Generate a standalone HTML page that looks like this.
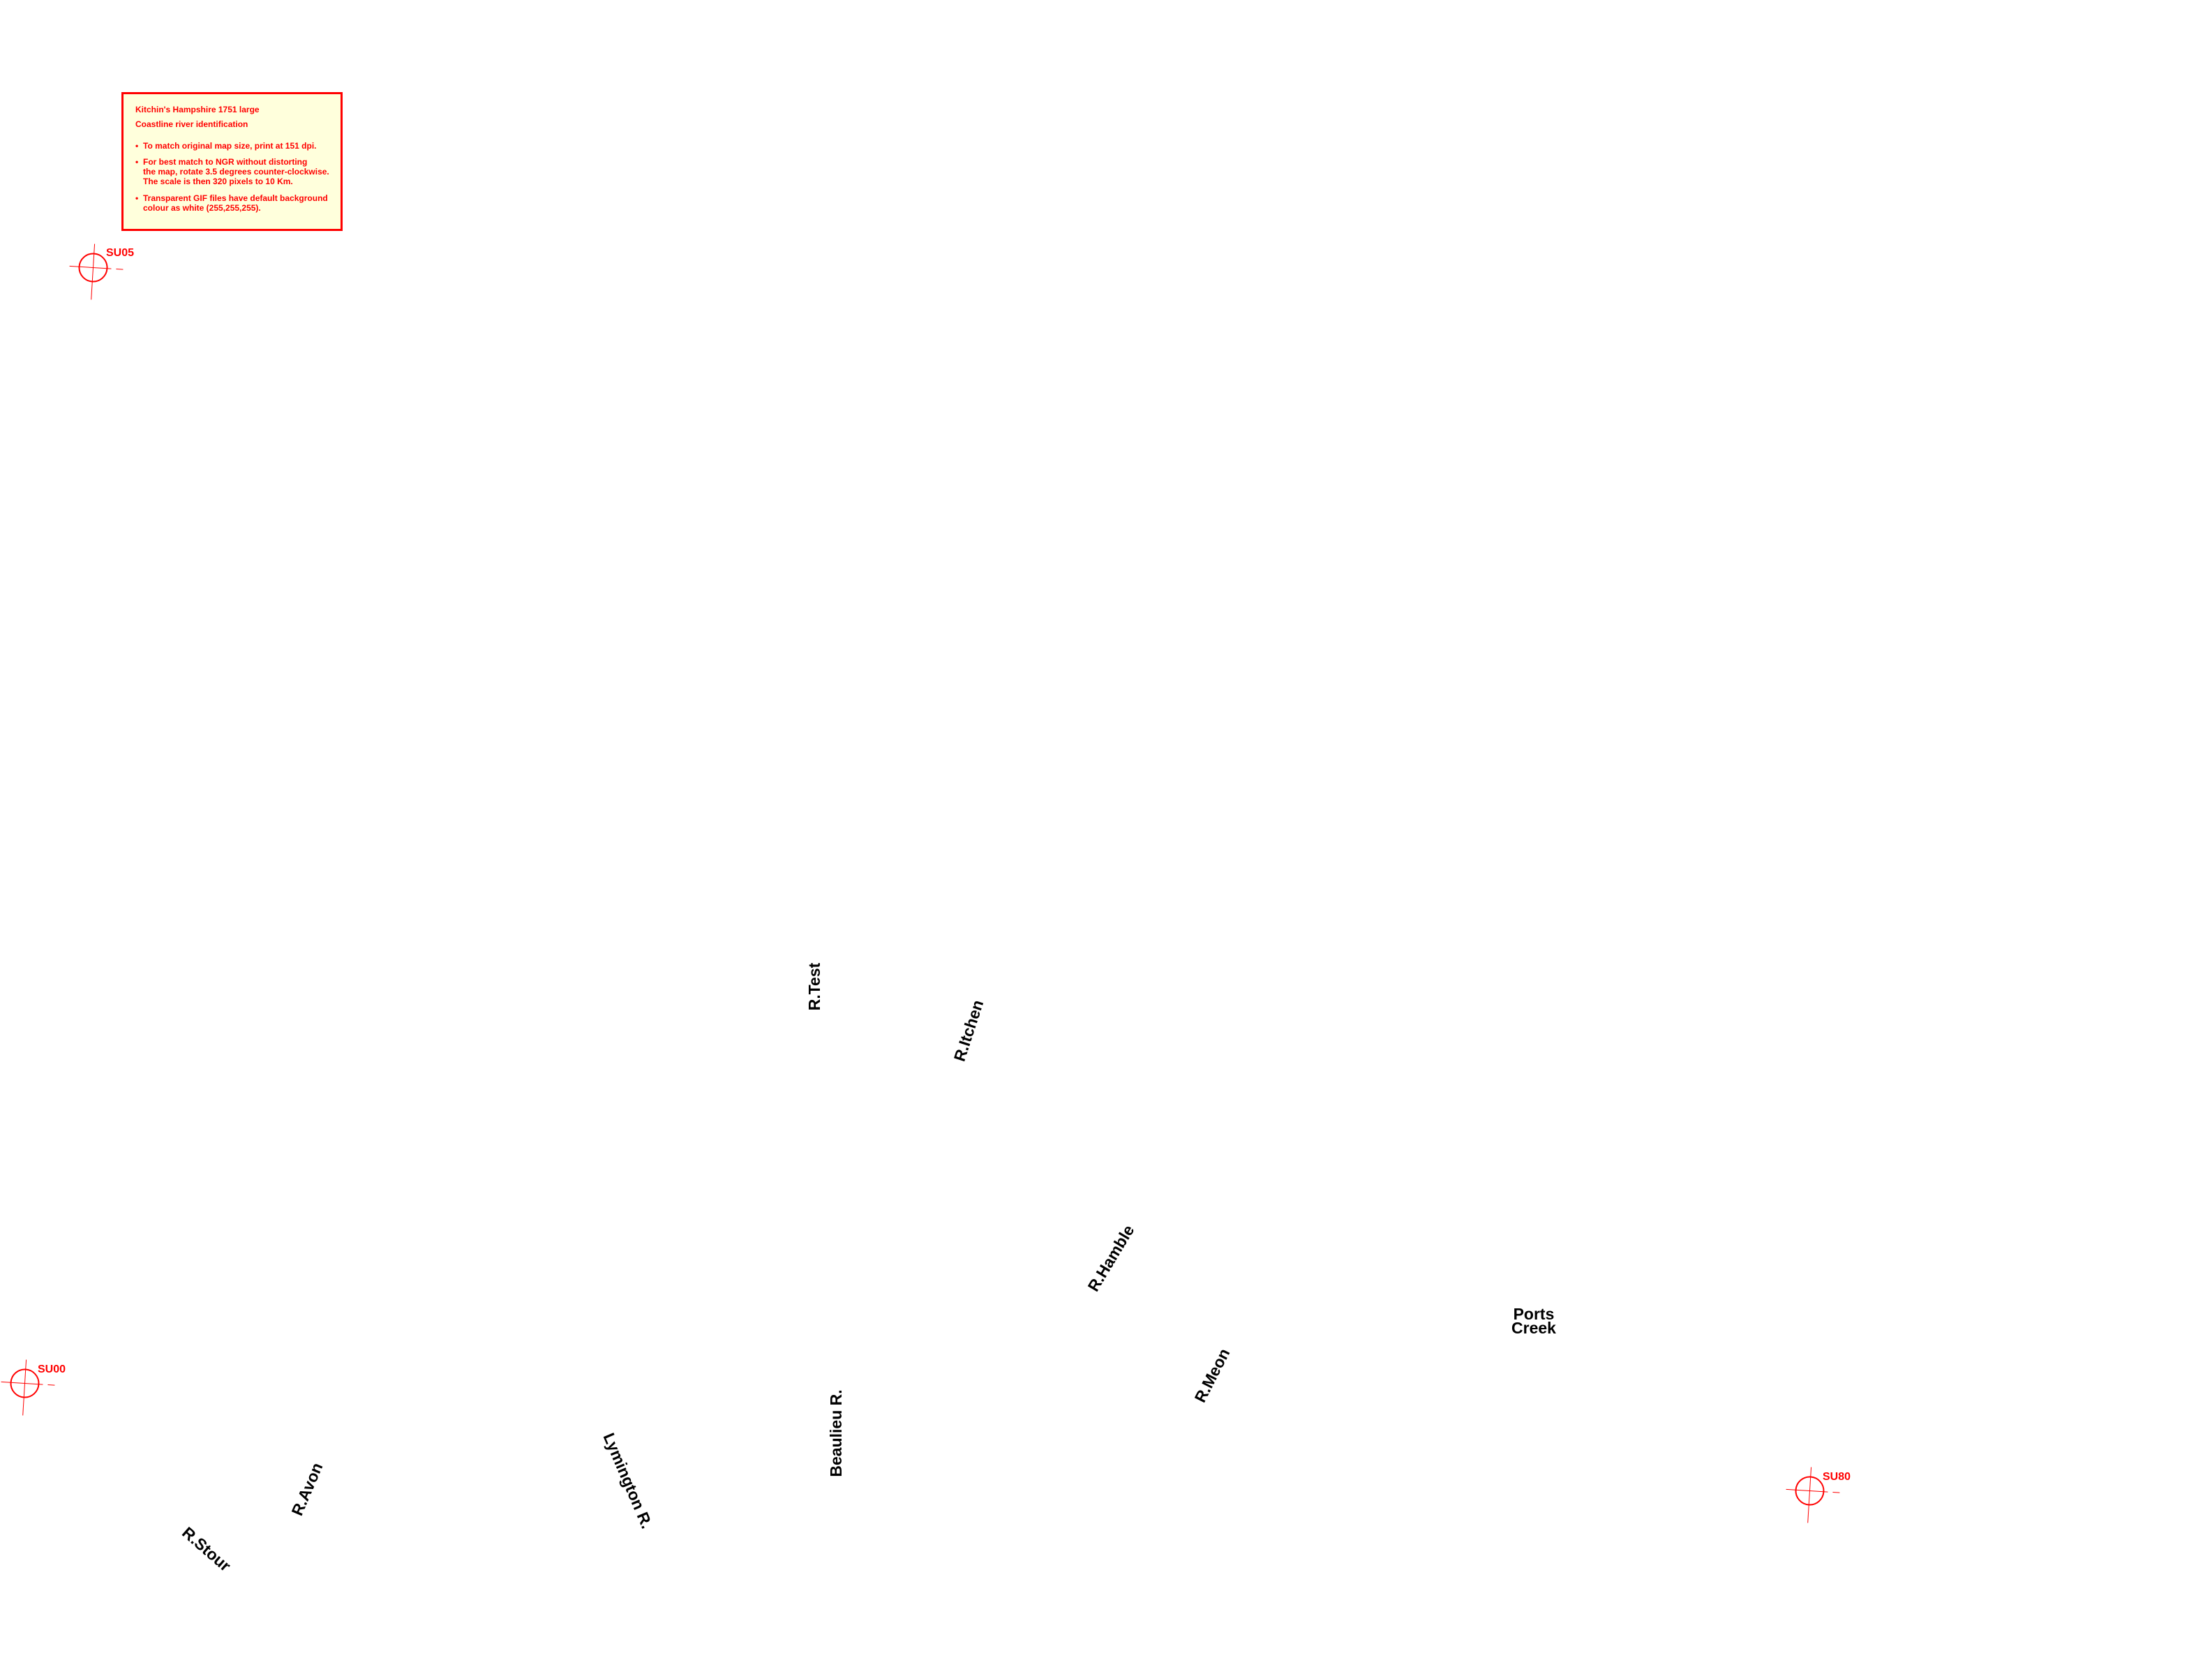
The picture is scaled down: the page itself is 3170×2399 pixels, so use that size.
<!DOCTYPE html>
<html><head><meta charset="utf-8"><style>
html,body{margin:0;padding:0;background:#fff;}
svg{display:block;}
.r{font-family:"Liberation Sans",Arial,sans-serif;font-weight:bold;fill:#000;font-size:23px;}
.lg{font-family:"Liberation Sans",Arial,sans-serif;font-weight:bold;fill:#f00;font-size:12px;}
.su{font-family:"Liberation Sans",Arial,sans-serif;font-weight:bold;fill:#f00;font-size:16px;}
</style></head><body>
<svg width="3170" height="2399" viewBox="0 0 3170 2399" xmlns="http://www.w3.org/2000/svg">
<rect x="0" y="0" width="3170" height="2399" fill="#fff"/>
<rect x="175.5" y="133.5" width="314" height="196" fill="#ffffdc" stroke="#f00" stroke-width="3"/>
<text class="lg" x="194" y="161">Kitchin's Hampshire 1751 large</text>
<text class="lg" x="194" y="182">Coastline river identification</text>
<text class="lg" x="194" y="213">•</text><text class="lg" x="205" y="213">To match original map size, print at 151 dpi.</text>
<text class="lg" x="194" y="236">•</text><text class="lg" x="205" y="236">For best match to NGR without distorting</text>
<text class="lg" x="205" y="250">the map, rotate 3.5 degrees counter-clockwise.</text>
<text class="lg" x="205" y="264">The scale is then 320 pixels to 10 Km.</text>
<text class="lg" x="194" y="288">•</text><text class="lg" x="205" y="288">Transparent GIF files have default background</text>
<text class="lg" x="205" y="302">colour as white (255,255,255).</text>

<g transform="translate(133.5,383.5) rotate(3.5)" stroke="#f00" stroke-width="1" fill="none">
<circle r="20" stroke-width="2"/>
<line x1="-34" y1="0" x2="26" y2="0"/><line x1="33" y1="0" x2="43" y2="0"/>
<line x1="0" y1="-34" x2="0" y2="46"/>
</g>
<text class="su" x="152" y="367">SU05</text>
<g transform="translate(35.5,1982.5) rotate(3.5)" stroke="#f00" stroke-width="1" fill="none">
<circle r="20" stroke-width="2"/>
<line x1="-34" y1="0" x2="26" y2="0"/><line x1="33" y1="0" x2="43" y2="0"/>
<line x1="0" y1="-34" x2="0" y2="46"/>
</g>
<text class="su" x="54" y="1967">SU00</text>
<g transform="translate(2593.5,2136.5) rotate(3.5)" stroke="#f00" stroke-width="1" fill="none">
<circle r="20" stroke-width="2"/>
<line x1="-34" y1="0" x2="26" y2="0"/><line x1="33" y1="0" x2="43" y2="0"/>
<line x1="0" y1="-34" x2="0" y2="46"/>
</g>
<text class="su" x="2612" y="2121">SU80</text>

<g text-anchor="middle" dominant-baseline="central">
<text class="r" transform="translate(1167,1414) rotate(-90)">R.Test</text>
<text class="r" transform="translate(1388,1477) rotate(-72)">R.Itchen</text>
<text class="r" transform="translate(1592,1803) rotate(-59)">R.Hamble</text>
<text class="r" transform="translate(1737,1971) rotate(-63)">R.Meon</text>
<text class="r" transform="translate(1198,2054) rotate(-90)">Beaulieu R.</text>
<text class="r" transform="translate(900,2122) rotate(67)">Lymington R.</text>
<text class="r" transform="translate(440,2134) rotate(-67)">R.Avon</text>
<text class="r" transform="translate(296,2220) rotate(41)">R.Stour</text>
<text class="r" x="2198" y="1883">Ports</text>
<text class="r" x="2198" y="1903">Creek</text>
</g>
</svg>
</body></html>
